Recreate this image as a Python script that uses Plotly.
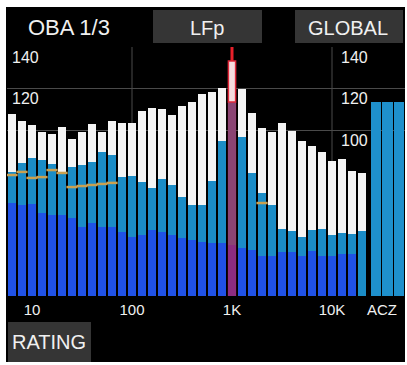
import plotly.graph_objects as go

# ---------------- data ----------------
bands = ["6.3", "8", "10", "12.5", "16", "20", "25", "31.5", "40", "50", "63", "80",
         "100", "125", "160", "200", "250", "315", "400", "500", "630", "800",
         "1K", "1.25K", "1.6K", "2K", "2.5K", "3.15K", "4K", "5K", "6.3K", "8K",
         "10K", "12.5K", "16K", "20K"]
lmax = [107.7, 104.3, 102.4, 99.0, 98.1, 101.4, 95.7, 99.0, 102.9, 99.0, 104.3, 103.4,
        103.4, 109.2, 110.6, 110.1, 107.2, 111.6, 113.5, 117.3, 118.1, 120.2,
        133.3, 119.8, 108.2, 101.2, 99.0, 103.4, 99.5, 94.5, 92.3, 89.4,
        85.3, 85.8, 80.2, 79.3]
lmid = [79.8, 84.1, 86.5, 85.5, 83.6, 79.3, 82.2, 83.1, 84.6, 89.4, 88.0, 77.3,
        77.8, 74.9, 72.0, 76.4, 73.5, 67.7, 63.9, 63.9, 75.4, 94.5,
        113.5, 96.6, 79.3, 69.6, 63.9, 52.3, 51.3, 48.4, 51.8, 52.3,
        49.4, 50.4, 49.9, 51.3]
lmin = [64.8, 63.9, 64.3, 60.0, 59.0, 59.0, 57.6, 53.3, 55.2, 53.3, 53.3, 50.8,
        48.4, 49.4, 51.8, 50.8, 49.4, 48.0, 47.0, 46.0, 45.5, 45.5,
        44.6, 43.1, 42.2, 39.3, 39.3, 41.2, 41.2, 39.3, 41.7, 39.3,
        39.3, 40.2, 40.2, None]
marks = [78.3, 79.8, 76.9, 77.3, 80.7, 79.3, 72.5, 73.0, 73.5, 74.0, 74.5, None,
         None, None, None, None, None, None, None, None, None, None,
         None, None, None, 64.8, None, None, None, None, None, None,
         None, None, None, None]
weights = ["A", "C", "Z"]
weighted = [113.5, 113.5, 113.5]
tick_bands = ["10", "100", "1K", "10K"]
tick_text = ["10", "100", "1K", "10K"]
grid_bands = ["100", "10K"]
cursor_band = "1K"
y_grid = [100, 120, 140]

# ---------------- geometry helpers ----------------
W, H = 407, 365
L, R, T, B = 7, 405, 47, 296
Y0, Y1 = 20, 140
n = len(bands)
xs = [i + 0.5 for i in range(n)]
acz_w = 1.167
acz_x = [n + 0.3 + acz_w * (k + 0.5) for k in range(len(weights))]
XMAX = (R - L) / 10.0


def px(x):
    return (x - L) / (R - L)


def py(y):
    return (B - y) / (B - T)


WHITE = "#f4f4f4"
TEAL = "#1b8cc6"
BLUE = "#2052e6"
GRID = "#4a4a4a"
BOX = "#353535"
FONT = "Liberation Sans, Arial, sans-serif"

fig = go.Figure()
fig.add_trace(go.Bar(x=xs, y=lmax, width=0.88, marker=dict(color=WHITE, line=dict(width=0)), name="max"))
fig.add_trace(go.Bar(x=xs, y=lmid, width=0.88, marker=dict(color=TEAL, line=dict(width=0)), name="mid"))
fig.add_trace(go.Bar(x=xs, y=lmin, width=0.88, marker=dict(color=BLUE, line=dict(width=0)), name="min"))
fig.add_trace(go.Bar(x=acz_x, y=weighted, width=acz_w - 0.12,
                     marker=dict(color="#1e90cc", line=dict(width=0)), name="ACZ"))
fig.add_trace(go.Scatter(x=xs, y=marks, mode="markers",
                         marker=dict(symbol="line-ew", size=8,
                                     line=dict(color="#c9a050", width=2.5)),
                         name="marks"))

shapes = []
# screen background
shapes.append(dict(type="rect", xref="paper", yref="paper", layer="below",
                   x0=px(6), x1=px(405), y0=py(362), y1=py(7),
                   fillcolor="black", line=dict(width=0)))
# header / footer boxes
for (x0, x1, y0, y1) in [(153, 262, 10, 43), (295, 403, 10, 43), (8, 91, 322, 362)]:
    shapes.append(dict(type="rect", xref="paper", yref="paper", layer="below",
                       x0=px(x0), x1=px(x1), y0=py(y1), y1=py(y0),
                       fillcolor=BOX, line=dict(width=0)))
# vertical grid lines
for b in grid_bands:
    xi = xs[bands.index(b)]
    shapes.append(dict(type="line", xref="x", yref="y", layer="below",
                       x0=xi, x1=xi, y0=Y0, y1=Y1, line=dict(color=GRID, width=1)))
# cursor
ci = bands.index(cursor_band)
cx = xs[ci]
shapes.append(dict(type="rect", xref="x", yref="y", layer="above",
                   x0=cx - 0.42, x1=cx + 0.42, y0=Y0, y1=lmid[ci],
                   fillcolor="rgba(215,20,60,0.6)", line=dict(width=0)))
shapes.append(dict(type="rect", xref="x", yref="y", layer="above",
                   x0=cx - 0.36, x1=cx + 0.36, y0=lmid[ci], y1=lmax[ci],
                   fillcolor="rgba(255,90,100,0.15)", line=dict(color="#e0283a", width=1.5)))
shapes.append(dict(type="line", xref="x", yref="y", layer="above",
                   x0=cx, x1=cx, y0=lmax[ci], y1=Y1, line=dict(color="#e8202a", width=3)))

annotations = []


def text(s, x, y, size, anchor="center"):
    annotations.append(dict(text=s, xref="paper", yref="paper", x=px(x), y=py(y),
                            xanchor=anchor, yanchor="middle", showarrow=False,
                            font=dict(family=FONT, size=size, color="#f0f0f0")))


text("OBA 1/3", 26, 28, 22, "left")
text("LFp", 207, 28, 20)
text("GLOBAL", 348, 28, 20)
text("RATING", 49, 342, 20)
for v in y_grid:
    yp = T + (Y1 - v) * (B - T) / (Y1 - Y0) + 10
    if v >= 120:
        text(str(v), 25, yp, 16)
    text(str(v), 354, yp, 16)

fig.update_layout(
    width=W, height=H,
    margin=dict(l=L, r=W - R, t=T, b=H - B, pad=0),
    paper_bgcolor="white", plot_bgcolor="black",
    barmode="overlay", bargap=0, showlegend=False,
    shapes=shapes, annotations=annotations,
    font=dict(family=FONT),
    xaxis=dict(range=[0, XMAX], showgrid=False, zeroline=False, showline=False,
               tickmode="array",
               tickvals=[xs[bands.index(b)] for b in tick_bands] + [(382 - L) / 10.0],
               ticktext=tick_text + ["ACZ"], ticks="", ticklabelstandoff=3,
               tickfont=dict(family=FONT, size=15, color="#f0f0f0")),
    yaxis=dict(range=[Y0, Y1], showgrid=True, gridcolor=GRID, gridwidth=1,
               tickmode="array", tickvals=y_grid, showticklabels=False,
               zeroline=False, showline=False, ticks=""),
)

fig.write_html("out.html")
